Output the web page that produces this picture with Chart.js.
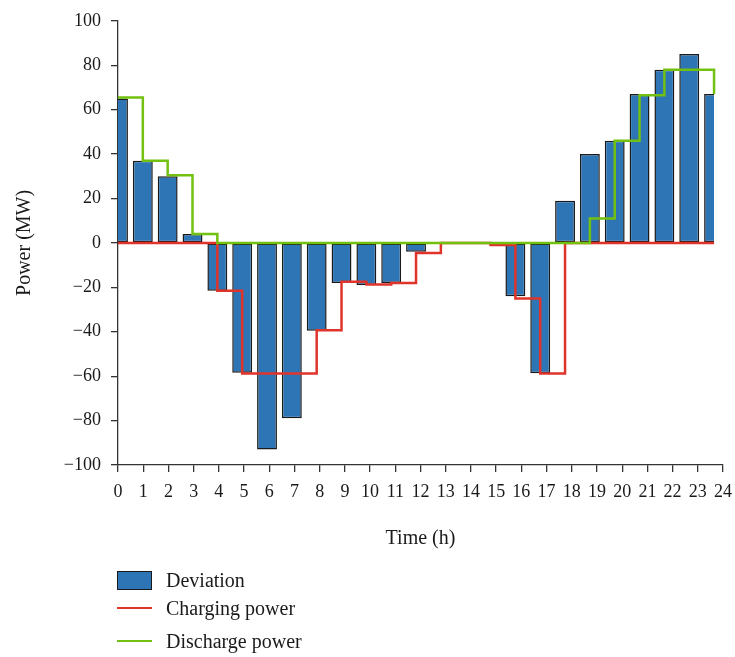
<!DOCTYPE html>
<html>
<head>
<meta charset="utf-8">
<title>Power deviation with charging and discharge power</title>
<script src="https://cdn.jsdelivr.net/npm/chart.js@4.4.1/dist/chart.umd.min.js"></script>
<style>
  body { margin: 0; background: #fff; }
  #wrap { position: relative; width: 735px; height: 657px; }
  .leg { position: absolute; left: 117px; height: 24px; line-height: 24px; display: flex; align-items: center;
         font-family: 'Liberation Serif', 'Times New Roman', serif; font-size: 20px; color: #1a1a1a; white-space: nowrap; }
  .sw { width: 35px; margin-right: 14px; box-sizing: border-box; }
  .sw.box { height: 19px; border: 1.5px solid #1a1a1a; }
  .sw.line { height: 2px; }
</style>
</head>
<body>
<div id="wrap">
  <canvas id="chart" width="735" height="657"></canvas>
</div>
<script>
// hours (one value per hour mark, 0..24)
const hours = [0, 1, 2, 3, 4, 5, 6, 7, 8, 9, 10, 11, 12, 13, 14, 15, 16, 17, 18, 19, 20, 21, 22, 23, 24];
const deviation = [65, 37, 30, 4, -21.5, -58.5, -93, -79, -39.5, -18, -19, -18, -4, 0, 0, 0, -24, -58.7, 19, 40, 46, 67, 78, 85, 67];
const charging = [0, 0, 0, 0, -21.5, -58.8, -58.8, -58.8, -39.3, -17.5, -18.7, -18, -4.6, 0, 0, -1, -25, -58.8, 0, 0, 0, 0, 0, 0, 0];
const discharge = [65.5, 37, 30.5, 4, 0, 0, 0, 0, 0, 0, 0, 0, 0, 0, 0, 0, 0, 0, 0, 11, 46, 66.5, 78, 78, 67];
const seriesNames = ['Deviation', 'Charging power', 'Discharge power'];

const blue = '#2e75b6';
const red = '#e0332a';
const green = '#72c00f';
const axisColor = '#333333';
const serif = "'Liberation Serif', 'Times New Roman', serif";

const pts = vals => vals.map((v, i) => ({ x: hours[i], y: v }));

const chart = new Chart(document.getElementById('chart'), {
  type: 'bar',
  data: {
    datasets: [
      {
        label: seriesNames[0],
        data: pts(deviation),
        xAxisID: 'xd',
        backgroundColor: blue,
        borderColor: '#1a1a1a',
        borderWidth: 1.5,
        borderSkipped: false,
        categoryPercentage: 1,
        barPercentage: 0.8,
        clip: { left: 0, top: 0, right: -9, bottom: 0 },
        order: 3
      },
      {
        type: 'line',
        label: seriesNames[1],
        data: pts(charging),
        xAxisID: 'xd',
        borderColor: red,
        borderWidth: 2.5,
        stepped: 'before',
        pointRadius: 0,
        fill: false,
        order: 2
      },
      {
        type: 'line',
        label: seriesNames[2],
        data: pts(discharge),
        xAxisID: 'xd',
        borderColor: green,
        borderWidth: 2.5,
        stepped: 'before',
        pointRadius: 0,
        fill: false,
        order: 1
      }
    ]
  },
  options: {
    responsive: false,
    devicePixelRatio: 1,
    animation: false,
    layout: { padding: { top: 15, right: 12, bottom: 102, left: 0 } },
    plugins: {
      legend: { display: false },
      tooltip: { enabled: false }
    },
    scales: {
      x: {
        type: 'linear',
        position: 'bottom',
        min: 0,
        max: 24,
        offset: false,
        afterFit: s => { s.height = 90; s.paddingLeft = 0; s.paddingRight = 0; },
        grid: { offset: false, drawOnChartArea: false, tickLength: 7, color: axisColor, lineWidth: 1.3 },
        border: { color: axisColor, width: 1.3 },
        ticks: { stepSize: 1, padding: 9, color: '#1a1a1a', font: { family: serif, size: 18 } },
        title: { display: true, text: 'Time (h)', color: '#1a1a1a', font: { family: serif, size: 20 }, padding: { top: 0, bottom: 4 } }
      },
      xd: {
        type: 'linear',
        axis: 'x',
        display: false,
        offset: false,
        grid: { offset: false },
        min: 0,
        max: 24.36
      },
      y: {
        min: -100,
        max: 100,
        afterFit: s => { s.width = 118; },
        grid: { drawOnChartArea: false, tickLength: 7, color: axisColor, lineWidth: 1.3 },
        border: { color: axisColor, width: 1.3 },
        ticks: {
          stepSize: 20,
          padding: 10,
          color: '#1a1a1a',
          font: { family: serif, size: 18 },
          callback: v => v < 0 ? '\u2212' + Math.abs(v) : String(v)
        },
        title: { display: true, text: 'Power (MW)', color: '#1a1a1a', font: { family: serif, size: 20 }, padding: { top: 13, bottom: 0 } }
      }
    }
  }
});

// vertical legend below the axis title
const wrap = document.getElementById('wrap');
const legendTops = [568, 596, 628.5];
chart.data.datasets.forEach((ds, i) => {
  const row = document.createElement('div');
  row.className = 'leg';
  row.style.top = legendTops[i] + 'px';
  const sw = document.createElement('span');
  if (ds.type === 'line') {
    sw.className = 'sw line';
    sw.style.background = ds.borderColor;
  } else {
    sw.className = 'sw box';
    sw.style.background = ds.backgroundColor;
  }
  const txt = document.createElement('span');
  txt.textContent = ds.label;
  row.appendChild(sw);
  row.appendChild(txt);
  wrap.appendChild(row);
});
</script>
</body>
</html>
